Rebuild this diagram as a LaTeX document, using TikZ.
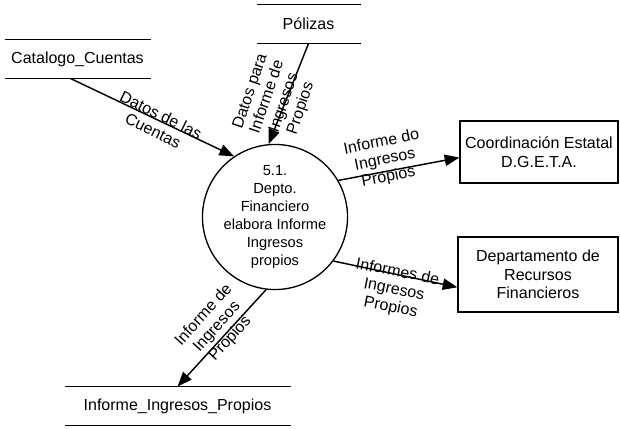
\documentclass[tikz,border=0pt]{standalone}
\usepackage{fontspec}
\setmainfont{Liberation Sans}
\usetikzlibrary{arrows.meta,calc}

\tikzset{every picture/.style={line width=0.75pt}}
\tikzset{
  almacen/.style={inner sep=0pt, font=\fontsize{12}{13.5}\selectfont},
  entidad/.style={draw, line width=1pt, align=center, inner sep=0pt, font=\fontsize{12}{13.9}\selectfont},
  proceso/.style={draw, circle, line width=1pt, minimum size=91.5pt, inner sep=0pt, align=center, font=\fontsize{11}{13.5}\selectfont},
  flujo/.style={-{Triangle[length=11pt,width=8.5pt]}, line width=1.1pt},
  etiq/.style={align=center, inner sep=0.75pt, font=\fontsize{12}{13.3}\selectfont}
}

\begin{document}
\begin{tikzpicture}[x=0.75pt,y=0.75pt,yscale=-1,xscale=1]
\useasboundingbox (0,0) rectangle (620,428);

%Shape: Almacenes [id:catalogo, polizas, informe]
\node[almacen, minimum width=108.75pt, minimum height=28.5pt] (catalogo) at (77.5,59) {Catalogo\_Cuentas};
\node[almacen, minimum width=77.25pt, minimum height=28.5pt] (polizas) at (308.5,24) {Pólizas};
\node[almacen, minimum width=168.75pt, minimum height=28.5pt] (informe) at (177.5,406) {Informe\_Ingresos\_Propios};
\draw [line width=1.3pt] (catalogo.north west) -- (catalogo.north east) (catalogo.south west) -- (catalogo.south east);
\draw [line width=1.3pt] (polizas.north west) -- (polizas.north east) (polizas.south west) -- (polizas.south east);
\draw [line width=1.3pt] (informe.north west) -- (informe.north east) (informe.south west) -- (informe.south east);

%Shape: Circle [id:proceso]
\node[proceso] (depto) at (275,217) {5.1.\\Depto.\\Financiero\\elabora Informe\\Ingresos\\propios};

%Shape: Rectangle [id:entidades]
\node[entidad, minimum width=118.5pt, minimum height=46.5pt] (coordinacion) at (539,152) {Coordinación Estatal\\D.G.E.T.A.};
\node[entidad, minimum width=120pt, minimum height=56.25pt] (departamento) at (538,274.5) {Departamento de\\Recursos\\Financieros};

%Straight Lines [id:flujos]
\draw [flujo] ($(catalogo.south)+(-7,0)$) -- (depto.124);
\draw [flujo] (polizas.south) -- (depto.95);
\draw [flujo] (depto.30) -- (coordinacion.184);
\draw [flujo] (depto.-37) -- (departamento.189);
\draw [flujo] (depto.263) -- (informe.north);

% Text Node
\node [etiq, rotate=-26.3] (lcuentas) at (157,123) {Datos de las\\Cuentas};
% Text Node
\node [etiq, rotate=71.3] (lpolizas) at (276,100) {Datos para\\Informe de\\Ingresos\\Propios};
% Text Node
\node [etiq, rotate=11.3] (lcoord) at (385,160) {Informe do\\Ingresos\\Propios};
% Text Node
\node [etiq, rotate=-11.2] (ldepto) at (394,290) {Informes de\\Ingresos\\Propios};
% Text Node
\node [etiq, rotate=48] (linforme) at (217,327) {Informe de\\Ingresos\\Propios};

\end{tikzpicture}
\end{document}
